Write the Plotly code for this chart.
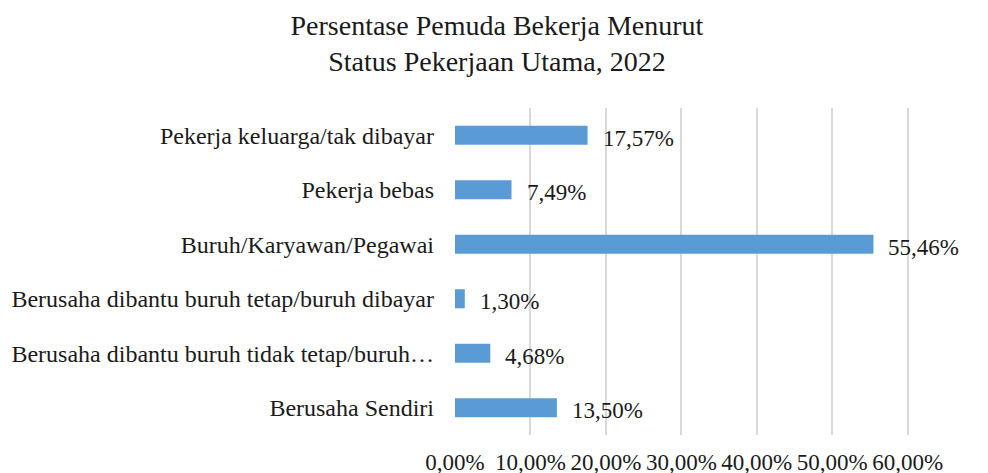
import plotly.graph_objects as go

categories = [
    "Berusaha Sendiri",
    "Berusaha dibantu buruh tidak tetap/buruh…",
    "Berusaha dibantu buruh tetap/buruh dibayar",
    "Buruh/Karyawan/Pegawai",
    "Pekerja bebas",
    "Pekerja keluarga/tak dibayar",
]
values = [13.50, 4.68, 1.30, 55.46, 7.49, 17.57]
value_labels = ["13,50%", "4,68%", "1,30%", "55,46%", "7,49%", "17,57%"]
tick_vals = [0, 10, 20, 30, 40, 50, 60]
tick_text = ["0,00%", "10,00%", "20,00%", "30,00%", "40,00%", "50,00%", "60,00%"]

FONT = "Liberation Serif"
TXT = "#1a1a1a"

fig = go.Figure()
fig.add_trace(go.Bar(
    x=values, y=categories, orientation="h",
    marker=dict(color="#5b9bd5", line=dict(width=0)),
    hoverinfo="skip",
))
for v, c, t in zip(values, categories, value_labels):
    fig.add_annotation(x=v, y=c, text=t, showarrow=False, xanchor="left",
                       xshift=13, yshift=-3,
                       font=dict(family=FONT, size=23, color=TXT))

fig.update_layout(
    width=988, height=473,
    margin=dict(l=455, r=78, t=108, b=38, autoexpand=False),
    paper_bgcolor="white", plot_bgcolor="white",
    bargap=0.65,
    showlegend=False,
    title=dict(text="Persentase Pemuda Bekerja Menurut<br>Status Pekerjaan Utama, 2022",
               x=0.503, xanchor="center", yref="container", y=0.927, yanchor="middle",
               font=dict(family=FONT, size=28, color=TXT)),
    font=dict(family=FONT, size=24, color=TXT),
)
fig.update_xaxes(range=[0, 60.3], tickvals=tick_vals, ticktext=tick_text,
                 showgrid=True, gridcolor="#d9d9d9", gridwidth=2,
                 zeroline=False, showline=False, ticks="",
                 ticklabelstandoff=11, automargin=False,
                 tickfont=dict(family=FONT, size=23, color=TXT),
                 fixedrange=True)
fig.update_yaxes(showgrid=False, zeroline=False, showline=False, ticks="",
                 ticklabelstandoff=20, automargin=False,
                 tickfont=dict(family=FONT, size=24, color=TXT),
                 fixedrange=True)

fig.write_html("out.html", config={"displayModeBar": False})
